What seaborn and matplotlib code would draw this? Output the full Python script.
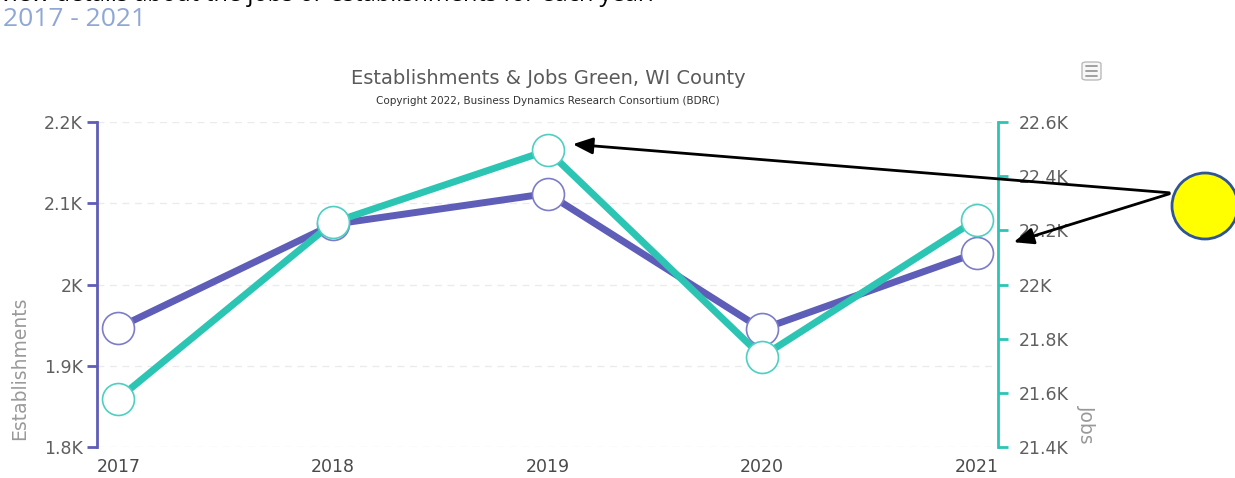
import matplotlib
matplotlib.use("Agg")
import matplotlib.pyplot as plt
import matplotlib.patches as mpatches
from matplotlib.ticker import FuncFormatter
import pandas as pd
import seaborn as sns

# datos
years = [2017, 2018, 2019, 2020, 2021]
establishments = [1947, 2074, 2112, 1945, 2039]
jobs = [21579, 22229, 22495, 21734, 22240]

est_ticks = [1800, 1900, 2000, 2100, 2200]
job_ticks = [21400, 21600, 21800, 22000, 22200, 22400, 22600]

PURPLE = "#5E5DB8"
TEAL = "#2CC5B4"
GREY = "#555555"

df = pd.DataFrame({"year": years, "est": establishments, "jobs": jobs})

sns.set_style("white")
plt.rcParams["font.family"] = ["DejaVu Sans"]

W, H = 1235, 478
fig = plt.figure(figsize=(W / 100, H / 100), dpi=100)
ax = fig.add_axes([97 / W, 1 - 447 / H, (998 - 97) / W, (447 - 122) / H])
ax2 = ax.twinx()

def kfmt(v, pos):
    s = "{:.1f}".format(v / 1000)
    if s.endswith(".0"):
        s = s[:-2]
    return s + "K"

# lineas con marcadores blancos
sns.lineplot(data=df, x="year", y="est", ax=ax, color=PURPLE, linewidth=5,
             marker="o", markersize=23, markerfacecolor="white",
             markeredgecolor="#7D7CC8", markeredgewidth=1.2, zorder=3)
sns.lineplot(data=df, x="year", y="jobs", ax=ax2, color=TEAL, linewidth=5,
             marker="o", markersize=23, markerfacecolor="white",
             markeredgecolor="#4FCFC2", markeredgewidth=1.2, zorder=3)

ax.set_xlim(2016.9, 2021.1)
ax.set_ylim(1800, 2200)
ax2.set_ylim(21400, 22600)
ax.set_yticks(est_ticks)
ax2.set_yticks(job_ticks)
ax.set_xticks(years)
ax.yaxis.set_major_formatter(FuncFormatter(kfmt))
ax2.yaxis.set_major_formatter(FuncFormatter(kfmt))
ax.set_xlabel("")
ax.set_ylabel("")
ax2.set_ylabel("")

for a in (ax, ax2):
    for sp in a.spines.values():
        sp.set_visible(False)
    a.patch.set_visible(False)

ax.spines["left"].set_visible(True)
ax.spines["left"].set_color(PURPLE)
ax.spines["left"].set_linewidth(2)
ax2.spines["right"].set_visible(True)
ax2.spines["right"].set_color(TEAL)
ax2.spines["right"].set_linewidth(2)

ax.tick_params(axis="y", colors=PURPLE, length=7, width=2, labelsize=12.5, labelcolor="#5f5f5f", pad=3)
ax2.tick_params(axis="y", colors=TEAL, length=7, width=2, labelsize=12.5, labelcolor="#5f5f5f", pad=8)
ax.tick_params(axis="x", length=0, labelsize=12.5, labelcolor="#4a4a4a", pad=8)

ax.yaxis.grid(True, color="#EBEBEB", linestyle=(0, (5, 4)), linewidth=1)
ax.set_axisbelow(True)
ax2.set_zorder(ax.get_zorder() + 1)

# titulos
fig.text(548 / W, 1 - 79 / H, "Establishments & Jobs Green, WI County",
         ha="center", va="center", fontsize=14, color="#5a5a5a")
fig.text(548 / W, 1 - 101 / H, "Copyright 2022, Business Dynamics Research Consortium (BDRC)",
         ha="center", va="center", fontsize=7.5, color="#333333")
fig.text(20 / W, 1 - 368 / H, "Establishments", rotation=90, ha="center", va="center",
         fontsize=13.5, color="#999999")
fig.text(1086 / W, 1 - 424 / H, "Jobs", rotation=270, ha="center", va="center",
         fontsize=13.5, color="#999999")

# texto cortado arriba (como en la captura)
fig.text(0, 1 + 5 / H, "view details about the jobs or establishments for each year.",
         ha="left", va="center", fontsize=17, color="black", family=["Open Sans", "DejaVu Sans"])
fig.text(3 / W, 1 - 19 / H, "2017 - 2021", ha="left", va="center",
         fontsize=19, color="#8EA7D6", family=["Open Sans", "DejaVu Sans"])

# icono de menu
fig.patches.append(mpatches.FancyBboxPatch((1082 / W, 1 - 80 / H), 19 / W, 18 / H,
                   boxstyle="round,pad=0,rounding_size=0.004", transform=fig.transFigure,
                   facecolor="#F7F7F7", edgecolor="#BBBBBB", linewidth=1))
for yy in (66, 71, 76):
    fig.lines.append(plt.Line2D([1086 / W, 1097 / W], [1 - yy / H, 1 - yy / H],
                     transform=fig.transFigure, color="#999999", linewidth=1.3))

# circulo amarillo y flechas
fig.patches.append(mpatches.Ellipse((1205 / W, 1 - 206 / H), 66 / W, 66 / H,
                   transform=fig.transFigure, facecolor="#FFFF00",
                   edgecolor="#2F5597", linewidth=2, zorder=10))
for tx, ty in [(570, 144), (1011, 243)]:
    fig.add_artist(mpatches.FancyArrowPatch((1172 / W, 1 - 193 / H), (tx / W, 1 - ty / H),
                   transform=fig.transFigure, arrowstyle="-|>,head_length=12,head_width=5",
                   color="black", linewidth=2, zorder=9))

fig.savefig("out.png", dpi=100)
